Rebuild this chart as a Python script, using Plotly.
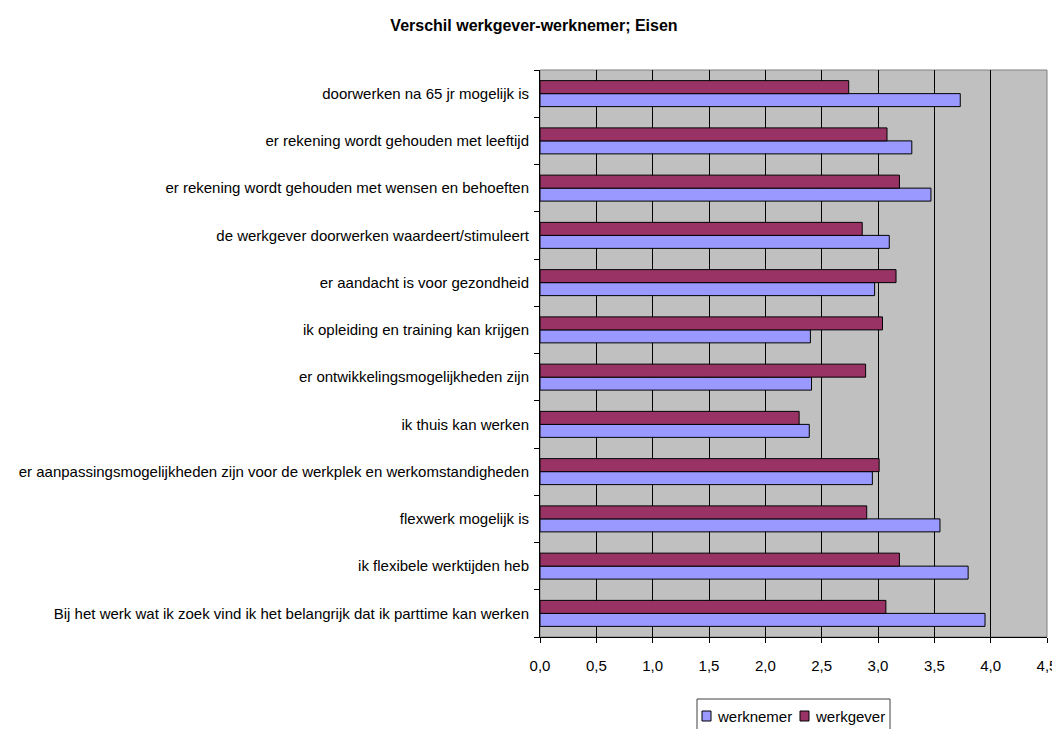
import plotly.graph_objects as go

categories = [
    "Bij het werk wat ik zoek vind ik het belangrijk dat ik parttime kan werken",
    "ik flexibele werktijden heb",
    "flexwerk mogelijk is",
    "er aanpassingsmogelijkheden zijn voor de werkplek en werkomstandigheden",
    "ik thuis kan werken",
    "er ontwikkelingsmogelijkheden zijn",
    "ik opleiding en training kan krijgen",
    "er aandacht is voor gezondheid",
    "de werkgever doorwerken waardeert/stimuleert",
    "er rekening wordt gehouden met wensen en behoeften",
    "er rekening wordt gehouden met leeftijd",
    "doorwerken na 65 jr mogelijk is",
]
werknemer = [3.95, 3.80, 3.55, 2.95, 2.39, 2.41, 2.40, 2.97, 3.10, 3.47, 3.30, 3.73]
werkgever = [3.07, 3.19, 2.90, 3.01, 2.30, 2.89, 3.04, 3.16, 2.86, 3.19, 3.08, 2.74]
series_names = ["werknemer", "werkgever"]
series_colors = ["#9999FF", "#993366"]
x_ticks = [0, 0.5, 1.0, 1.5, 2.0, 2.5, 3.0, 3.5, 4.0, 4.5]

FONT = "Liberation Sans, Arial, sans-serif"

# figure geometry (page body adds an 8px offset, so the figure is 1052x721)
W, H = 1052, 721
ML, MR, MT, MB = 532, 13, 62, 92
PW, PH = W - ML - MR, H - MT - MB


def px(xp):
    return (xp - ML) / PW


def py(yp):
    return (H - MB - yp) / PH


fig = go.Figure()
for name, vals, col in zip(series_names, [werknemer, werkgever], series_colors):
    fig.add_trace(go.Bar(
        y=categories, x=vals, orientation="h", name=name,
        marker=dict(color=col, line=dict(color="#000000", width=1)),
    ))

fig.update_layout(
    template="none",
    width=W, height=H,
    margin=dict(l=ML, r=MR, t=MT, b=MB, autoexpand=False),
    paper_bgcolor="#FFFFFF",
    plot_bgcolor="#C0C0C0",
    separators=",.",
    barmode="group",
    bargap=0.45,
    bargroupgap=0,
    font=dict(family=FONT, size=15, color="#000000"),
    title=dict(
        text="<b>Verschil werkgever-werknemer; Eisen</b>",
        x=0.5, xanchor="center", y=1 - 17 / H, yanchor="middle",
        font=dict(family=FONT, size=16, color="#000000"),
    ),
    showlegend=False,
    xaxis=dict(
        range=[0, 4.5], tickvals=x_ticks, tickformat=".1f",
        showgrid=True, gridcolor="#000000", gridwidth=1,
        showline=True, linecolor="#000000", linewidth=1, mirror=False,
        ticks="outside", ticklen=5, tickcolor="#000000",
        ticklabelstandoff=10,
        tickfont=dict(family=FONT, size=15),
        zeroline=False, fixedrange=True, automargin=False,
    ),
    yaxis=dict(
        type="category", categoryorder="array", categoryarray=categories,
        showline=True, linecolor="#000000", linewidth=1,
        ticks="outside", tickson="boundaries", ticklen=5, tickcolor="#000000",
        showgrid=False, ticklabelstandoff=7,
        tickfont=dict(family=FONT, size=15),
        fixedrange=True, automargin=False, zeroline=False,
    ),
)

# top/right border of plot area (gray)
fig.add_shape(type="rect", xref="paper", yref="paper", x0=0, x1=1, y0=0, y1=1,
              line=dict(color="#808080", width=1), fillcolor="rgba(0,0,0,0)", layer="below")

# legend box drawn by hand to match the reference's compact legend
fig.add_shape(type="rect", xref="paper", yref="paper",
              x0=px(689), x1=px(882), y0=py(691), y1=py(735),
              line=dict(color="#404040", width=1), fillcolor="#FFFFFF")
for i, (name, col) in enumerate(zip(series_names, series_colors)):
    x_sq = 694 + i * 98
    fig.add_shape(type="rect", xref="paper", yref="paper",
                  x0=px(x_sq), x1=px(x_sq + 9), y0=py(713), y1=py(703),
                  line=dict(color="#000000", width=1), fillcolor=col)
    fig.add_annotation(text=name, xref="paper", yref="paper",
                       x=px(x_sq + 13), y=py(708), xanchor="left", yanchor="middle",
                       showarrow=False, font=dict(family=FONT, size=15, color="#000000"))

fig.write_html("out.html")
